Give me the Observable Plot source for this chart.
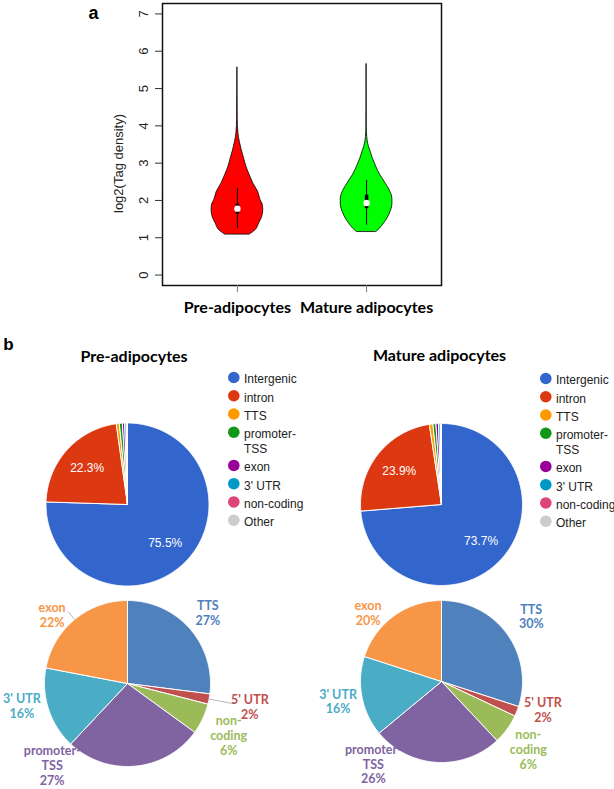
<!DOCTYPE html>
<html><head><meta charset="utf-8">
<script src="https://cdn.jsdelivr.net/npm/d3@7"></script>
<script src="https://cdn.jsdelivr.net/npm/@observablehq/plot@0.6"></script>
<style>
html,body{margin:0;padding:0;background:#fff;overflow:hidden}
#fig{position:relative;width:614px;height:789px;overflow:hidden;background:#fff}
.abs{position:absolute}
.lbl{position:absolute;white-space:nowrap;transform:translate(-50%,-50%);line-height:1;color:#000}
</style></head><body><div id="fig"></div>
<script>
// ---------- DATA ----------
const groups = ["Pre-adipocytes", "Mature adipocytes"];
const yTicks = [0, 1, 2, 3, 4, 5, 6, 7];
// violin profiles: log2 tag density and half-width of density
const preY = [1.09, 1.2, 1.38, 1.56, 1.75, 1.9, 2.0, 2.23, 2.45, 2.68, 2.9, 3.12, 3.34, 3.56, 3.79, 4.2, 5.57];
const preW = [0.097, 0.14, 0.168, 0.192, 0.2, 0.195, 0.18, 0.16, 0.124, 0.095, 0.07, 0.052, 0.034, 0.019, 0.008, 0.002, 0];
const matY = [1.16, 1.25, 1.39, 1.52, 1.65, 1.78, 1.9, 2.02, 2.14, 2.25, 2.36, 2.45, 2.57, 2.68, 2.9, 3.12, 3.34, 3.52, 3.7, 3.97, 4.6, 5.66];
const matW = [0.077, 0.105, 0.137, 0.162, 0.18, 0.194, 0.2, 0.2, 0.195, 0.182, 0.165, 0.148, 0.127, 0.106, 0.075, 0.049, 0.028, 0.012, 0.005, 0.0015, 0.0005, 0];
const whiskerLow = [1.25, 1.34];
const whiskerHigh = [2.32, 2.54];
const boxQ1 = [1.63, 1.78];
const boxQ3 = [1.90, 2.14];
const medians = [1.78, 1.93];
const violinFill = ["#ff0000", "#00ff00"];

const featureCats = ["Intergenic", "intron", "TTS", "promoter-TSS", "exon", "3' UTR", "non-coding", "Other"];
const featureColors = ["#3366cc", "#dc3912", "#ff9900", "#109618", "#990099", "#0099c6", "#dd4477", "#cccccc"];
const prePct = [75.5, 22.3, 0.6, 0.6, 0.45, 0.3, 0.15, 0.1];
const matPct = [73.7, 23.9, 0.7, 0.6, 0.5, 0.35, 0.15, 0.1];

const promCats = ["TTS", "5' UTR", "non-coding", "promoter-TSS", "3' UTR", "exon"];
const promLabels = ["TTS", "5' UTR", "non-\ncoding", "promoter-\nTSS", "3' UTR", "exon"];
const promColors = ["#4f81bd", "#c0504d", "#9bbb59", "#8064a2", "#4bacc6", "#f79646"];
const prePromPct = [27, 2, 6, 27, 16, 22];
const matPromPct = [30, 2, 6, 26, 16, 20];

// label layout (not data): angle nudge in degrees, radius factor, leader-line end factor
const preLabelNudge = [0, 0, 2, 48, 6, -8];
const preLabelRadius = [1.29, 1.5, 1.37, 1.34, 1.30, 1.23];
const preLeader = [0, 1.3, 0, 0, 0, 1.13];
const matLabelNudge = [0, -6, 2, 36, 0, -11];
const matLabelRadius = [1.37, 1.30, 1.36, 1.32, 1.30, 1.24];
const matLeader = [0, 0, 0, 0, 0, 0];

// ---------- HELPERS ----------
const fig = document.getElementById("fig");
function place(node, left, top, w) {
  const d = document.createElement("div");
  d.className = "abs";
  d.style.left = left + "px"; d.style.top = top + "px"; d.style.width = w + "px";
  d.appendChild(node); fig.appendChild(d);
}
function label(text, cx, cy, css) {
  const d = document.createElement("div");
  d.className = "lbl"; d.textContent = text;
  d.style.left = cx + "px"; d.style.top = cy + "px";
  Object.assign(d.style, css);
  fig.appendChild(d);
}
function slicePoints(values, cats) {
  const arcs = d3.pie().sort(null).value(d => d)(values);
  const pts = [];
  arcs.forEach((a, i) => {
    const n = Math.max(2, Math.ceil((a.endAngle - a.startAngle) / 0.01));
    pts.push({key: cats[i], x: 0, y: 0});
    for (let k = 0; k <= n; k++) {
      const t = a.startAngle + (a.endAngle - a.startAngle) * k / n;
      pts.push({key: cats[i], x: Math.sin(t), y: Math.cos(t)});
    }
    pts.push({key: cats[i], x: 0, y: 0});
  });
  return {arcs, pts};
}
function piePlot(pts, cats, colors, R, half, extra) {
  const s = half / R;
  return Plot.plot({
    width: 2 * half, height: 2 * half, margin: 0,
    x: {domain: [-s, s], axis: null}, y: {domain: [-s, s], axis: null},
    color: {domain: cats, range: colors},
    style: {background: "transparent", overflow: "visible"},
    marks: [
      Plot.line(pts, {x: "x", y: "y", z: "key", fill: "key", stroke: "white", strokeWidth: 1, strokeLinejoin: "round", curve: "linear"}),
      ...extra
    ]
  });
}
function topPie(values, cx, cy, R) {
  const {arcs, pts} = slicePoints(values, featureCats);
  const mid = a => (a.startAngle + a.endAngle) / 2;
  const big = arcs.filter(a => a.value >= 5);
  const f = 0.665;
  const p = piePlot(pts, featureCats, featureColors, R, 90, [
    Plot.text(big, {x: a => f * Math.sin(mid(a)), y: a => f * Math.cos(mid(a)), text: a => a.value.toFixed(1) + "%",
      fill: "white", fontSize: 12, fontFamily: "Liberation Sans, Arial, sans-serif"})
  ]);
  place(p, cx - 90, cy - 90, 180);
}
function bottomPie(values, nudge, radius, leader, cx, cy, R) {
  const {arcs, pts} = slicePoints(values, promCats);
  const mid = a => (a.startAngle + a.endAngle) / 2;
  const la = (a, i) => mid(a) + nudge[i] * Math.PI / 180;
  const leaders = arcs.filter((a, i) => leader[i] > 0);
  const p = piePlot(pts, promCats, promColors, R, 135, [
    Plot.link(leaders, {
      x1: a => Math.sin(mid(a)), y1: a => Math.cos(mid(a)),
      x2: a => leader[a.index] * Math.sin(mid(a)), y2: a => leader[a.index] * Math.cos(mid(a)),
      stroke: "#a6a6a6", strokeWidth: 0.8}),
    Plot.text(arcs, {
      x: (a, i) => radius[i] * Math.sin(la(a, i)), y: (a, i) => radius[i] * Math.cos(la(a, i)),
      text: (a, i) => promLabels[i] + "\n" + a.value + "%",
      fill: (a, i) => promCats[i], fontSize: 12.5, fontWeight: "bold", fontFamily: "Lato, sans-serif", lineHeight: 1.18})
  ]);
  place(p, cx - 135, cy - 135, 270);
}
function legend(left, top) {
  let acc = 0;
  const items = featureCats.map(c => {
    const lines = c === "promoter-TSS" ? 2 : 1;
    const it = {key: c, label: c === "promoter-TSS" ? "promoter-\nTSS" : c, y: acc};
    acc += 1 + (lines - 1) * 0.82;
    return it;
  });
  const step = 18.25;
  const p = Plot.plot({
    width: 110, height: 180, margin: 0,
    y: {domain: [0, 9], range: [10, 10 + 9 * step], axis: null},
    color: {domain: featureCats, range: featureColors},
    style: {background: "transparent", overflow: "visible"},
    marks: [
      Plot.dot(items, {y: "y", frameAnchor: "left", dx: 13.3, r: 5.8, fill: "key", stroke: "none"}),
      Plot.text(items, {y: "y", text: "label", frameAnchor: "left", dx: 23.5, dy: -4.7, textAnchor: "start", lineAnchor: "top",
        fontSize: 12, lineHeight: 1.25, fill: "#222", fontFamily: "Liberation Sans, Arial, sans-serif"})
    ]
  });
  place(p, left, top - 10, 110);
}

// ---------- PANEL a: violins ----------
const violinData = [];
preY.forEach((y, i) => violinData.push({g: 0, y, w: preW[i]}));
matY.forEach((y, i) => violinData.push({g: 1, y, w: matW[i]}));
const idx = groups.map((d, i) => i);
const violin = Plot.plot({
  width: 460, height: 330, marginLeft: 162, marginRight: 19, marginTop: 3, marginBottom: 45,
  x: {domain: [0.42, 2.58], axis: null, label: null},
  y: {domain: [-0.28, 7.28], axis: null, label: null},
  color: {domain: [0, 1], range: violinFill, type: "ordinal"},
  style: {background: "transparent", overflow: "visible", fontFamily: "Liberation Sans, Arial, sans-serif"},
  marks: [
    Plot.areaX(violinData, {y: "y", x1: d => d.g + 1 - d.w, x2: d => d.g + 1 + d.w, z: "g", fill: "g",
      stroke: "#000", strokeWidth: 0.8, curve: "monotone-y"}),
    Plot.ruleX(idx, {x: i => i + 1, y1: i => whiskerLow[i], y2: i => whiskerHigh[i], stroke: "#000", strokeWidth: 1}),
    Plot.ruleX(idx, {x: i => i + 1, y1: i => boxQ1[i], y2: i => boxQ3[i], stroke: "#000", strokeWidth: 3.5}),
    Plot.dot(idx, {x: i => i + 1, y: i => medians[i], r: 3.2, fill: "white", stroke: "none"}),
    Plot.frame({stroke: "#111", strokeWidth: 1.5}),
    Plot.axisY({ticks: yTicks, tickSize: 7, tickFormat: () => "", stroke: "#333", label: null}),
    Plot.text(yTicks, {y: d => d, text: d => String(d), frameAnchor: "left", dx: -19, rotate: -90,
      textAnchor: "middle", lineAnchor: "middle", fontSize: 13, fill: "#222"}),
    Plot.axisX({ticks: [1, 2], tickSize: 7, tickFormat: () => "", stroke: "#777", label: null}),
    Plot.text(groups, {x: (d, i) => i + 1, text: d => d, frameAnchor: "bottom", dy: 22, lineAnchor: "middle",
      fontFamily: "Lato, sans-serif", fontWeight: "bold", fontSize: 16, fill: "#000"}),
    Plot.text(["log2(Tag density)"], {text: d => d, frameAnchor: "left", dx: -44, dy: 19, rotate: -90,
      textAnchor: "middle", lineAnchor: "middle", fontSize: 13, fill: "#222"})
  ]
});
place(violin, 0, 0, 460);

// ---------- PANEL b: pies ----------
topPie(prePct, 127, 503.5, 81.5);
topPie(matPct, 440.7, 503.7, 81);
legend(220, 376.7);
legend(531.7, 378.3);
bottomPie(prePromPct, preLabelNudge, preLabelRadius, preLeader, 127.3, 683.3, 83);
bottomPie(matPromPct, matLabelNudge, matLabelRadius, matLeader, 441.3, 681, 81);

// ---------- text labels ----------
label("a", 93.5, 12.5, {font: "bold 18px 'Liberation Sans', Arial, sans-serif"});
label("b", 8.5, 344.5, {font: "bold 17px 'Liberation Sans', Arial, sans-serif"});
label("Pre-adipocytes", 134, 354.5, {font: "bold 16px Lato, sans-serif"});
label("Mature adipocytes", 439.5, 353.5, {font: "bold 16px Lato, sans-serif"});
</script></body></html>
